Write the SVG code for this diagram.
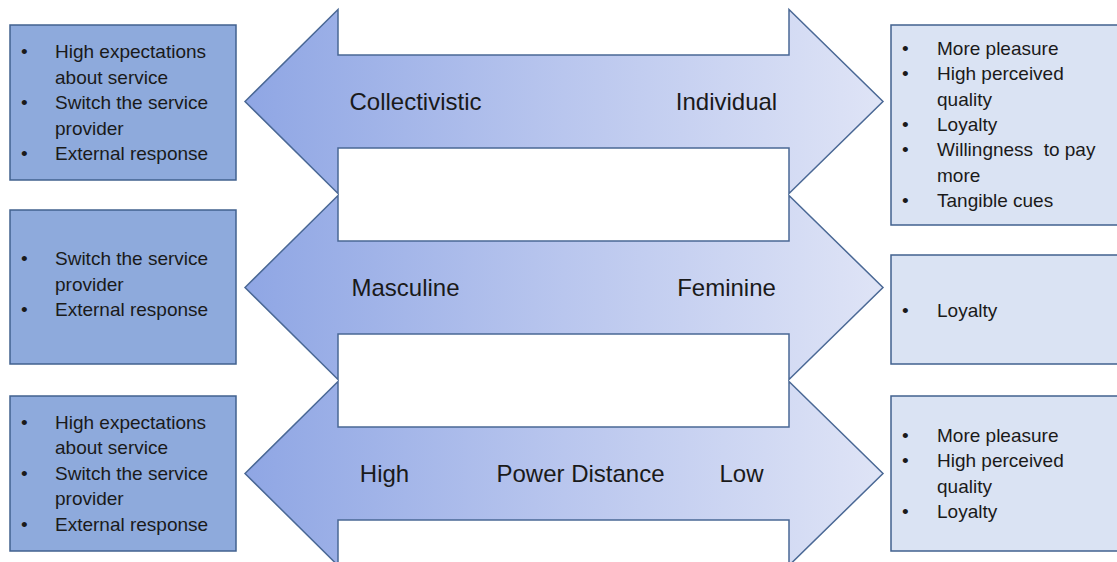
<svg xmlns="http://www.w3.org/2000/svg" width="1117" height="562" viewBox="0 0 1117 562">
<defs>
<linearGradient id="ag" gradientUnits="userSpaceOnUse" x1="245" y1="0" x2="883" y2="0">
<stop offset="0" stop-color="#8FA6E4"/>
<stop offset="0.5" stop-color="#B9C6EE"/>
<stop offset="1" stop-color="#DFE4F6"/>
</linearGradient>
<style>
.arrow{fill:url(#ag);stroke:#4A6895;stroke-width:1.5;stroke-linejoin:miter}
.lbox{fill:#8EAADC;stroke:#41618F;stroke-width:1.5}
.rbox{fill:#DAE3F3;stroke:#41618F;stroke-width:1.5}
text{font-family:"Liberation Sans",Arial,sans-serif;fill:#1a1a1a}
.b{font-size:19px}
.pre{white-space:pre}
.lab{font-size:24px;text-anchor:middle}
</style>
</defs>
<g id="connectors">
<path id="arrow1" class="arrow" d="M245,101.5 L338,9.5 L338,55 L789,55 L789,9.5 L883,101.5 L789,193.5 L789,148 L338,148 L338,193.5 Z"/>
<path id="arrow2" class="arrow" d="M245,287.5 L338,195.5 L338,241 L789,241 L789,195.5 L883,287.5 L789,379.5 L789,334 L338,334 L338,379.5 Z"/>
<path id="arrow3" class="arrow" d="M245,473.5 L338,381.5 L338,427 L789,427 L789,381.5 L883,473.5 L789,565.5 L789,520 L338,520 L338,565.5 Z"/>
</g>
<g id="labels">
<text class="lab" x="415.5" y="110">Collectivistic</text>
<text class="lab" x="726.5" y="110">Individual</text>
<text class="lab" x="405.5" y="296">Masculine</text>
<text class="lab" x="726.5" y="296">Feminine</text>
<text class="lab" x="384.5" y="482">High</text>
<text class="lab" x="580.5" y="482">Power Distance</text>
<text class="lab" x="741.5" y="482">Low</text>
</g>
<g id="left1">
<rect class="lbox" x="10" y="25" width="226" height="155"/>
<text class="b" x="21" y="58">•</text><text class="b" x="55" y="58">High expectations</text>
<text class="b" x="55" y="83.5">about service</text>
<text class="b" x="21" y="109">•</text><text class="b" x="55" y="109">Switch the service</text>
<text class="b" x="55" y="134.5">provider</text>
<text class="b" x="21" y="160">•</text><text class="b" x="55" y="160">External response</text>
</g>
<g id="left2">
<rect class="lbox" x="10" y="210" width="226" height="154"/>
<text class="b" x="21" y="265">•</text><text class="b" x="55" y="265">Switch the service</text>
<text class="b" x="55" y="290.5">provider</text>
<text class="b" x="21" y="316">•</text><text class="b" x="55" y="316">External response</text>
</g>
<g id="left3">
<rect class="lbox" x="10" y="396" width="226" height="155"/>
<text class="b" x="21" y="428.5">•</text><text class="b" x="55" y="428.5">High expectations</text>
<text class="b" x="55" y="454">about service</text>
<text class="b" x="21" y="479.5">•</text><text class="b" x="55" y="479.5">Switch the service</text>
<text class="b" x="55" y="505">provider</text>
<text class="b" x="21" y="530.5">•</text><text class="b" x="55" y="530.5">External response</text>
</g>
<g id="right1">
<rect class="rbox" x="891" y="25" width="227" height="200"/>
<text class="b" x="902" y="55">•</text><text class="b" x="937" y="55">More pleasure</text>
<text class="b" x="902" y="80.3">•</text><text class="b" x="937" y="80.3">High perceived</text>
<text class="b" x="937" y="105.6">quality</text>
<text class="b" x="902" y="130.9">•</text><text class="b" x="937" y="130.9">Loyalty</text>
<text class="b" x="902" y="156.2">•</text><text class="b pre" x="937" y="156.2">Willingness  to pay</text>
<text class="b" x="937" y="181.5">more</text>
<text class="b" x="902" y="206.8">•</text><text class="b" x="937" y="206.8">Tangible cues</text>
</g>
<g id="right2">
<rect class="rbox" x="891" y="255" width="227" height="109"/>
<text class="b" x="902" y="316.5">•</text><text class="b" x="937" y="316.5">Loyalty</text>
</g>
<g id="right3">
<rect class="rbox" x="891" y="396" width="227" height="155"/>
<text class="b" x="902" y="441.7">•</text><text class="b" x="937" y="441.7">More pleasure</text>
<text class="b" x="902" y="467.1">•</text><text class="b" x="937" y="467.1">High perceived</text>
<text class="b" x="937" y="492.5">quality</text>
<text class="b" x="902" y="517.9">•</text><text class="b" x="937" y="517.9">Loyalty</text>
</g>
</svg>
